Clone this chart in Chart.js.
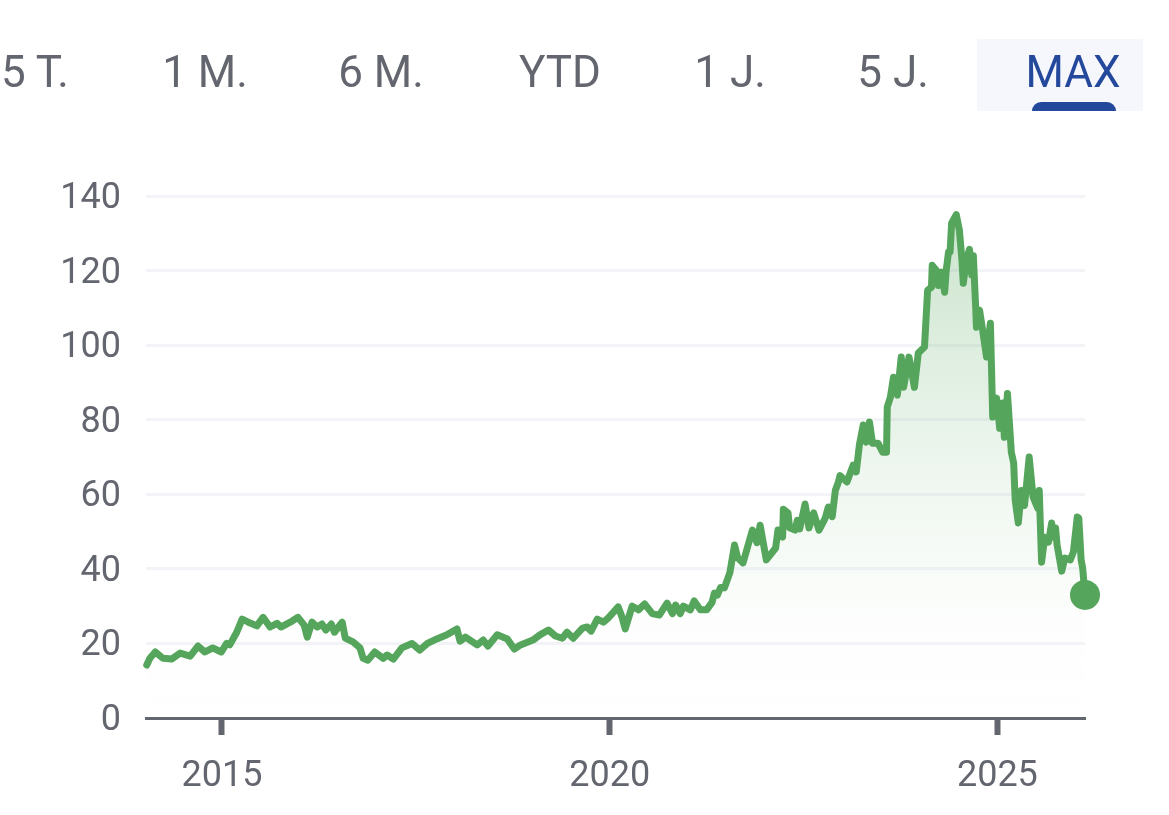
<!DOCTYPE html>
<html>
<head>
<meta charset="utf-8">
<script src="https://cdn.jsdelivr.net/npm/chart.js@4"></script>
<style>
  html, body { margin: 0; padding: 0; background: #fff; overflow: hidden; }
  #wrap { position: relative; width: 1169px; height: 815px; font-family: Roboto, sans-serif; }
  canvas { position: absolute; left: 0; top: 0; }
  .tab { position: absolute; top: 48px; font-size: 44px; line-height: 48px; color: #63666f; transform: translateX(-50%); white-space: nowrap; }
  .tab.active { color: #24489b; }
  #activeBg { position: absolute; left: 977px; top: 39px; width: 166px; height: 72px; background: #f5f7fd; }
  #activeBar { position: absolute; left: 1032px; top: 102px; width: 84px; height: 9px; background: #24489b; border-radius: 9px 9px 0 0; }
</style>
</head>
<body>
<div id="wrap">
  <div id="activeBg"></div>
  <div id="activeBar"></div>
  <canvas id="chart" width="1169" height="815"></canvas>
</div>
<script>
const tabLabels = ['5 T.', '1 M.', '6 M.', 'YTD', '1 J.', '5 J.', 'MAX'];
const tabCenters = [35, 205, 381, 560, 730, 893, 1073];

const yearTicks = [2015, 2020, 2025];
const valueTicks = [0, 20, 40, 60, 80, 100, 120, 140];

const years = [
  2014.03, 2014.07, 2014.14, 2014.24, 2014.35, 2014.46, 2014.59, 2014.69, 2014.78, 2014.88, 2014.99,
  2015.06, 2015.10, 2015.19, 2015.26, 2015.34, 2015.45, 2015.53, 2015.62, 2015.71, 2015.76, 2015.88, 2015.98,
  2016.06, 2016.10, 2016.16, 2016.23, 2016.29, 2016.34, 2016.41, 2016.45, 2016.55, 2016.59, 2016.69, 2016.78, 2016.82, 2016.88, 2016.97,
  2017.08, 2017.13, 2017.21, 2017.32, 2017.45, 2017.55, 2017.65, 2017.77, 2017.90,
  2018.03, 2018.07, 2018.14, 2018.29, 2018.37, 2018.43, 2018.55, 2018.68, 2018.77, 2018.85,
  2019.01, 2019.10, 2019.21, 2019.30, 2019.39, 2019.45, 2019.53, 2019.65, 2019.71, 2019.76, 2019.84, 2019.92, 2019.98,
  2020.11, 2020.16, 2020.20, 2020.29, 2020.37, 2020.45, 2020.55, 2020.64, 2020.74, 2020.81, 2020.85, 2020.91, 2020.95,
  2021.04, 2021.09, 2021.17, 2021.25, 2021.32, 2021.35, 2021.39, 2021.43, 2021.48, 2021.55, 2021.61, 2021.65, 2021.72, 2021.84, 2021.90, 2021.94,
  2022.02, 2022.14, 2022.17, 2022.23, 2022.24, 2022.30, 2022.32, 2022.39, 2022.42, 2022.45, 2022.52, 2022.57, 2022.63, 2022.70, 2022.78, 2022.82, 2022.87, 2022.91, 2022.95, 2022.97,
  2023.06, 2023.14, 2023.18, 2023.22, 2023.27, 2023.31, 2023.35, 2023.39, 2023.46, 2023.52, 2023.57, 2023.58, 2023.62, 2023.66, 2023.71, 2023.76, 2023.79, 2023.86, 2023.93, 2023.98,
  2024.06, 2024.10, 2024.15, 2024.16, 2024.23, 2024.24, 2024.28, 2024.32, 2024.34, 2024.37, 2024.39, 2024.41, 2024.43, 2024.47, 2024.51, 2024.54, 2024.56, 2024.60, 2024.64, 2024.67, 2024.69, 2024.72, 2024.73, 2024.77, 2024.81, 2024.86, 2024.91, 2024.94, 2024.99,
  2025.03, 2025.07, 2025.09, 2025.13, 2025.18, 2025.21, 2025.23, 2025.27, 2025.31, 2025.35, 2025.41, 2025.46, 2025.52, 2025.54, 2025.57, 2025.61, 2025.66, 2025.70, 2025.72, 2025.75, 2025.77, 2025.83, 2025.87, 2025.94, 2025.98,
  2026.03, 2026.05, 2026.08, 2026.10, 2026.13
];

const prices = [
  14.2, 16, 17.7, 16, 15.8, 17.4, 16.6, 19.3, 17.7, 18.8, 17.7,
  20, 19.6, 23, 26.5, 25.7, 24.7, 27, 24.4, 25.4, 24.4, 25.7, 27,
  24.9, 21.7, 25.7, 24.4, 25.2, 23.6, 25.2, 23, 25.7, 21.4, 20.4, 18.8, 16, 15.5, 17.7,
  16, 16.9, 15.8, 18.8, 20, 18.2, 20, 21.2, 22.3,
  23.9, 20.6, 21.7, 19.6, 20.9, 19.3, 22.3, 21.2, 18.5, 19.6,
  20.9, 22.3, 23.6, 22, 21.4, 23, 21.4, 24.1, 24.4, 23.3, 26.5, 25.7, 26.8,
  29.8, 27, 23.9, 30, 29, 30.6, 28, 27.6, 30.8, 28, 30.3, 28, 30,
  29, 31.4, 29, 29, 31, 33.5, 33, 35, 34.9, 39, 46.4, 43, 41.6, 50.4, 47, 51.7,
  42.4, 45.6, 50.4, 48.5, 56, 55, 51, 50.4, 53, 50.7, 57.4, 51, 55, 50.4, 53.6, 56.6, 54, 61, 63.3, 65,
  63.3, 67.8, 66, 73.2, 78.6, 74, 79.4, 73.7, 73.7, 71.3, 71.3, 83.4, 86, 91.4, 86.6, 96.8, 88.7, 96.8, 88.7, 97.9,
  99.5, 114.7, 115.5, 121.4, 119.6, 116, 119.6, 114.2, 120, 125, 125, 132.7, 133.5, 135, 130.8, 123.6, 116.6, 122.8, 125.7, 118.8, 124, 110.2, 104.8, 109.4, 104, 96.8, 105.9, 80.7, 85.8,
  77.7, 84.5, 75.3, 87, 71.3, 68.4, 58.4, 52.3, 61, 57, 70, 59.3, 56.3, 61, 41.8, 48.5, 47.2, 52.3, 48.5, 51, 46.4, 39.4, 42.9, 42.4, 44.5,
  53.9, 53.6, 42.4, 40.2, 33
];

const points = years.map((year, i) => ({ x: year, y: prices[i] }));

// tab strip above the chart
const wrap = document.getElementById('wrap');
tabLabels.forEach((label, i) => {
  const tab = document.createElement('div');
  tab.className = 'tab' + (label === 'MAX' ? ' active' : '');
  tab.textContent = label;
  tab.style.left = tabCenters[i] + 'px';
  wrap.appendChild(tab);
});

const lineColor = '#55a65c';
const axisColor = '#63666f';

new Chart(document.getElementById('chart'), {
  type: 'line',
  data: {
    datasets: [{
      data: points,
      borderColor: lineColor,
      borderWidth: 7,
      borderJoinStyle: 'round',
      borderCapStyle: 'round',
      tension: 0,
      clip: false,
      fill: 'origin',
      backgroundColor: (ctx) => {
        const area = ctx.chart.chartArea;
        if (!area) return 'transparent';
        const g = ctx.chart.ctx.createLinearGradient(0, area.top + 18, 0, area.bottom);
        g.addColorStop(0, 'rgba(85,166,92,0.30)');
        g.addColorStop(0.5, 'rgba(85,166,92,0.10)');
        g.addColorStop(0.8, 'rgba(85,166,92,0.015)');
        g.addColorStop(1, 'rgba(85,166,92,0)');
        return g;
      },
      pointRadius: (ctx) => ctx.dataIndex === points.length - 1 ? 15 : 0,
      pointBackgroundColor: lineColor,
      pointBorderWidth: 0
    }]
  },
  options: {
    responsive: false,
    animation: false,
    layout: { padding: { top: 196, right: 84, left: 0, bottom: 0 } },
    plugins: { legend: { display: false }, tooltip: { enabled: false } },
    scales: {
      x: {
        type: 'linear',
        min: 2014.02,
        max: 2026.13,
        afterBuildTicks: (scale) => { scale.ticks = yearTicks.map((v) => ({ value: v })); },
        afterFit: (scale) => { scale.height = 97; },
        grid: { drawOnChartArea: false, drawTicks: true, tickLength: 17, tickWidth: 6, tickColor: axisColor },
        border: { color: axisColor, width: 3 },
        ticks: {
          color: axisColor,
          padding: 20,
          maxRotation: 0,
          font: { family: 'Roboto', size: 36 },
          callback: (v) => String(v)
        }
      },
      y: {
        min: 0,
        max: 140,
        afterBuildTicks: (scale) => { scale.ticks = valueTicks.map((v) => ({ value: v })); },
        afterFit: (scale) => { scale.width = 146; },
        grid: { drawTicks: false, color: '#f3f4f8', lineWidth: 3 },
        border: { display: false },
        ticks: {
          color: axisColor,
          padding: 25,
          labelOffset: 3,
          font: { family: 'Roboto', size: 36 }
        }
      }
    }
  }
});
</script>
</body>
</html>
